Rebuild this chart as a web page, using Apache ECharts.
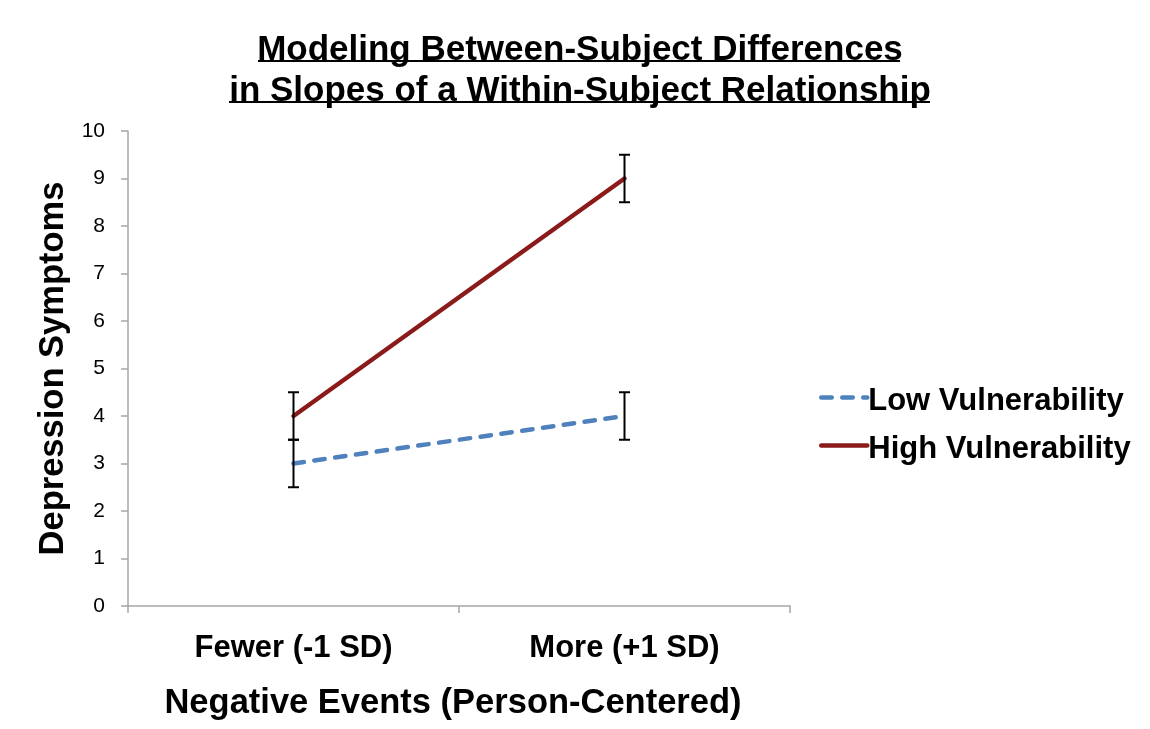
<!DOCTYPE html>
<html>
<head>
<meta charset="utf-8">
<script src="https://cdn.jsdelivr.net/npm/echarts@6/dist/echarts.min.js"></script>
<style>html,body{margin:0;padding:0;background:#fff;}#c{width:1150px;height:729px;}</style>
</head>
<body>
<div id="c"></div>
<script>
const categories = ['Fewer (-1 SD)', 'More (+1 SD)'];
const lowVulnerability = [3, 4];
const highVulnerability = [4, 9];
const lowError = [0.5, 0.5];
const highError = [0.5, 0.5];
const seriesNames = ['Low Vulnerability', 'High Vulnerability'];
const titleLines = ['Modeling Between-Subject Differences', 'in Slopes of a Within-Subject Relationship'];
const yAxisTitle = 'Depression Symptoms';
const xAxisTitle = 'Negative Events (Person-Centered)';

const errData = [];
lowVulnerability.forEach((v, i) => errData.push([i, v - lowError[i], v + lowError[i]]));
highVulnerability.forEach((v, i) => errData.push([i, v - highError[i], v + highError[i]]));

const font = '"Liberation Sans", Arial, sans-serif';
const lowDash = [10.5, 10.5];
const chart = echarts.init(document.getElementById('c'), null, {renderer: 'canvas'});
chart.setOption({
  backgroundColor: '#fff',
  animation: false,
  title: {
    text: titleLines.join('\n'),
    left: 575, textAlign: 'center', top: 25,
    textStyle: {fontFamily: font, fontWeight: 'bold', fontSize: 35, lineHeight: 41, color: '#000'}
  },
  graphic: [
    {type: 'line', shape: {x1: 258, y1: 61, x2: 900, y2: 61}, style: {stroke: '#000', lineWidth: 2}},
    {type: 'line', shape: {x1: 229, y1: 102, x2: 930, y2: 102}, style: {stroke: '#000', lineWidth: 2}}
  ],
  legend: {
    orient: 'vertical', left: 814, top: 381, itemGap: 17,
    itemWidth: 46, itemHeight: 14,
    itemStyle: {color: 'rgba(0,0,0,0)', borderWidth: 0, opacity: 0},
    formatter: '{a|{name}}',
    textStyle: {
      fontFamily: font, fontWeight: 'bold', fontSize: 31, color: '#000',
      rich: {a: {fontFamily: font, fontWeight: 'bold', fontSize: 31, color: '#000', padding: [8, 0, 0, -4]}}
    },
    data: [
      {name: seriesNames[0], lineStyle: {type: lowDash, width: 4.5, cap: 'round', color: '#4f81bd'}},
      {name: seriesNames[1], lineStyle: {width: 4.5, cap: 'round', color: '#8b1a1a'}}
    ]
  },
  grid: {left: 128, right: 360, top: 131, bottom: 123, containLabel: false},
  xAxis: {
    type: 'category', data: categories, boundaryGap: true,
    axisLine: {lineStyle: {color: '#a6a6a6', width: 1.5}},
    axisTick: {show: true, length: 7, lineStyle: {color: '#a6a6a6', width: 1.5}},
    axisLabel: {fontFamily: font, fontWeight: 'bold', fontSize: 31, color: '#000', margin: 27},
    name: xAxisTitle, nameLocation: 'middle', nameGap: 80,
    nameTextStyle: {fontFamily: font, fontWeight: 'bold', fontSize: 34.5, color: '#000', padding: [0, 12, 0, 0]}
  },
  yAxis: {
    type: 'value', min: 0, max: 10, interval: 1,
    axisLine: {show: true, lineStyle: {color: '#a6a6a6', width: 1.5}},
    axisTick: {show: true, length: 7, lineStyle: {color: '#a6a6a6', width: 1.5}},
    splitLine: {show: false},
    axisLabel: {fontFamily: font, fontSize: 21, color: '#000', margin: 23},
    name: yAxisTitle, nameLocation: 'middle', nameGap: 49, nameRotate: 90,
    nameTextStyle: {fontFamily: font, fontWeight: 'bold', fontSize: 34.5, color: '#000'}
  },
  series: [
    {
      name: seriesNames[0], type: 'line', data: lowVulnerability, symbol: 'none', z: 3,
      lineStyle: {color: '#4f81bd', width: 4.5, type: lowDash, cap: 'round'},
      itemStyle: {color: '#4f81bd'}
    },
    {
      name: seriesNames[1], type: 'line', data: highVulnerability, symbol: 'none', z: 3,
      lineStyle: {color: '#8b1a1a', width: 4.5, cap: 'round'},
      itemStyle: {color: '#8b1a1a'}
    },
    {
      type: 'custom', z: 4, data: errData, silent: true,
      renderItem: function (params, api) {
        const x = api.value(0);
        const lo = api.coord([x, api.value(1)]);
        const hi = api.coord([x, api.value(2)]);
        const w = 5.5;
        const st = {stroke: '#000', lineWidth: 2};
        return {type: 'group', children: [
          {type: 'line', shape: {x1: lo[0], y1: lo[1], x2: hi[0], y2: hi[1]}, style: st},
          {type: 'line', shape: {x1: lo[0]-w, y1: lo[1], x2: lo[0]+w, y2: lo[1]}, style: st},
          {type: 'line', shape: {x1: hi[0]-w, y1: hi[1], x2: hi[0]+w, y2: hi[1]}, style: st}
        ]};
      }
    }
  ]
});
</script>
</body>
</html>
